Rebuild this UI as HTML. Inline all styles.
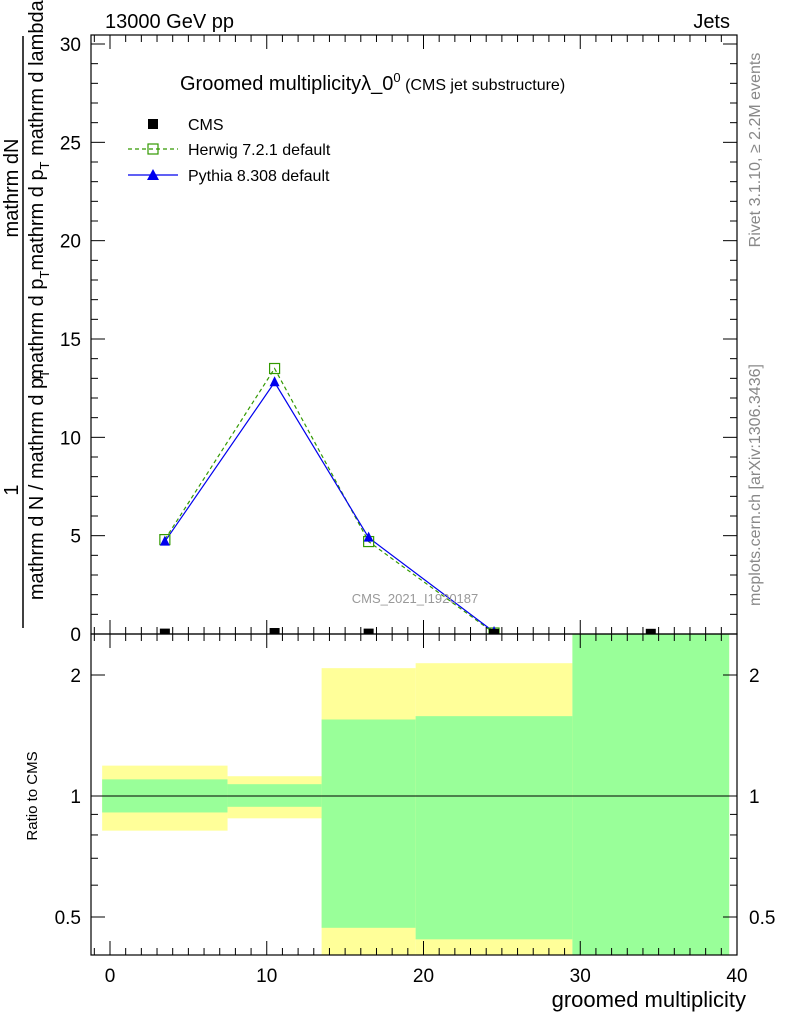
<!DOCTYPE html>
<html><head><meta charset="utf-8"><style>
body{margin:0;background:#fff;font-family:"Liberation Sans",sans-serif}
svg text{font-family:"Liberation Sans",sans-serif}
</style></head><body>
<svg id="c" width="786" height="1024" xmlns="http://www.w3.org/2000/svg">
<defs><clipPath id="mainclip"><rect x="91" y="35" width="646" height="599"/></clipPath></defs>
<g id="ratio-bands"></g>
<g id="marks" clip-path="url(#mainclip)"></g>
<g id="axes"></g>
<text x="105" y="28" font-size="20">13000 GeV pp</text>
<text x="730" y="28" font-size="20" text-anchor="end">Jets</text>
<text x="180" y="90" font-size="20">Groomed multiplicityλ_0<tspan font-size="13" dy="-8">0</tspan><tspan font-size="16" dy="8"> (CMS jet substructure)</tspan></text>
<g>
<rect x="148" y="119" width="10" height="10" fill="#000"/>
<text x="188" y="130" font-size="16">CMS</text>
<line x1="128" y1="149" x2="178" y2="149" stroke="#339900" stroke-dasharray="4,3" stroke-width="1.2"/>
<rect x="148" y="144" width="10" height="10" fill="none" stroke="#339900" stroke-width="1.2"/>
<text x="188" y="155" font-size="16">Herwig 7.2.1 default</text>
<line x1="128" y1="175" x2="178" y2="175" stroke="#0000ee" stroke-width="1.2"/>
<polygon points="153,169 159,180 147,180" fill="#0000ee"/>
<text x="188" y="181" font-size="16">Pythia 8.308 default</text>
</g>
<text x="415" y="603" font-size="13" fill="#999" text-anchor="middle">CMS_2021_I1920187</text>
<text transform="translate(760,150) rotate(-90)" font-size="16" fill="#888" text-anchor="middle">Rivet 3.1.10, ≥ 2.2M events</text>
<text transform="translate(760,485) rotate(-90)" font-size="16" fill="#888" text-anchor="middle">mcplots.cern.ch [arXiv:1306.3436]</text>
<g>
<text transform="translate(18,490) rotate(-90)" font-size="20" text-anchor="middle">1</text>
<text transform="translate(18,188) rotate(-90)" font-size="20" text-anchor="middle">mathrm dN</text>
<line x1="23" y1="628" x2="23" y2="36" stroke="#000" stroke-width="1.5"/>
<text transform="translate(43,485) rotate(-90)" font-size="20" text-anchor="middle">mathrm d N / mathrm d p<tspan font-size="13" dy="6">T</tspan></text>
<text transform="translate(43,190) rotate(-90)" font-size="20" text-anchor="middle">mathrm d p<tspan font-size="13" dy="6">T</tspan><tspan dy="-6">mathrm d p</tspan><tspan font-size="13" dy="6">T</tspan><tspan dy="-6"> mathrm d lambda</tspan></text>
</g>
<text transform="translate(37,796) rotate(-90)" font-size="15" text-anchor="middle">Ratio to CMS</text>
<text x="746" y="1007" font-size="22" text-anchor="end">groomed multiplicity</text>
</svg>
<script>
const binEdges=[-0.5,7.5,13.5,19.5,29.5,39.5];
const xCenters=[3.5,10.5,16.5,24.5,34.5];
const cmsVals=[0.02,0.05,0.02,0.005,0.01];
const herwigVals=[4.8,13.5,4.7,0.05];
const pythiaVals=[4.7,12.8,4.9,0.1];
const yellowHi=[1.19,1.12,2.08,2.14,3];
const yellowLo=[0.82,0.88,0.3,0.3,0.3];
const greenHi=[1.10,1.07,1.55,1.58,3];
const greenLo=[0.91,0.94,0.47,0.44,0.3];
const xTicks=[0,10,20,30,40];
const yTicks=[0,5,10,15,20,25,30];
const rTicks=[0.5,1,2];
const NS="http://www.w3.org/2000/svg";
const L=91,R=737,T=35,B=634,RB=955;
const X=v=>110+(v)*(737-110)/40;
const Y=v=>634-v*(634-44)/30;
const RY=v=>{const y=796-Math.log2(v)*121;return Math.max(B,Math.min(RB,y));};
function mk(t,a,p){const e=document.createElementNS(NS,t);for(const k in a)e.setAttribute(k,a[k]);(p||document.getElementById('c')).appendChild(e);return e;}
const rb=document.getElementById('ratio-bands'),mg=document.getElementById('marks'),ax=document.getElementById('axes');
for(let i=0;i<xCenters.length;i++){
const x0=Math.max(L,X(binEdges[i])),x1=Math.min(R,X(binEdges[i+1]));
let e=mk('rect',{x:x0,y:RY(yellowHi[i]),width:x1-x0,height:RY(yellowLo[i])-RY(yellowHi[i]),fill:'#ffff99'},rb);


e=mk('rect',{x:x0,y:RY(greenHi[i]),width:x1-x0,height:RY(greenLo[i])-RY(greenHi[i]),fill:'#99ff99'},rb);


}
mk('line',{x1:L,x2:R,y1:RY(1),y2:RY(1),stroke:'#000','stroke-width':1},rb);
let hp=herwigVals.map((v,i)=>X(xCenters[i])+','+Y(v)).join(' ');
let e=mk('polyline',{points:hp,fill:'none',stroke:'#339900','stroke-dasharray':'4,3','stroke-width':1.2},mg);


let pp=pythiaVals.map((v,i)=>X(xCenters[i])+','+Y(v)).join(' ');
e=mk('polyline',{points:pp,fill:'none',stroke:'#0000ee','stroke-width':1.2},mg);


herwigVals.forEach((v,i)=>{const p=mk('rect',{x:X(xCenters[i])-5,y:Y(v)-5,width:10,height:10,fill:'none',stroke:'#339900','stroke-width':1.2},mg);

});
pythiaVals.forEach((v,i)=>{const x=X(xCenters[i]),y=Y(v);const p=mk('polygon',{points:`${x},${y-6} ${x+5},${y+4} ${x-5},${y+4}`,fill:'#0000ee'},mg);

});
cmsVals.forEach((v,i)=>{const x=X(xCenters[i]),y=Y(v);const p=mk('rect',{x:x-5,y:y-5,width:10,height:10,fill:'#000'},mg);

});
mk('rect',{x:L,y:T,width:R-L,height:B-T,fill:'none',stroke:'#000','stroke-width':1.2},ax);
mk('rect',{x:L,y:B,width:R-L,height:RB-B,fill:'none',stroke:'#000','stroke-width':1.2},ax);
for(let v=0;v<=30;v++){const y=Y(v);if(y<T)continue;const len=v%5==0?14:7;
mk('line',{x1:L,x2:L+len,y1:y,y2:y,stroke:'#000'},ax);mk('line',{x1:R,x2:R-len,y1:y,y2:y,stroke:'#000'},ax);}
yTicks.forEach(v=>{const t=mk('text',{x:L-10,y:Y(v)+7,'font-size':19,'text-anchor':'end'},ax);t.textContent=v;

});
for(let v=-1;v<=39;v++){const x=X(v);if(x<L||x>R)continue;const len=v%10==0?14:7;
mk('line',{x1:x,x2:x,y1:B,y2:B-len,stroke:'#000'},ax);mk('line',{x1:x,x2:x,y1:B,y2:B+len,stroke:'#000'},ax);
mk('line',{x1:x,x2:x,y1:T,y2:T+len,stroke:'#000'},ax);mk('line',{x1:x,x2:x,y1:RB,y2:RB-len,stroke:'#000'},ax);}
xTicks.forEach(v=>{const t=mk('text',{x:X(v),y:982,'font-size':19,'text-anchor':'middle'},ax);t.textContent=v;

});
[0.4,0.5,0.6,0.7,0.8,0.9,1,2].forEach(v=>{const y=RY(v);const len=[0.5,1,2].includes(v)?14:7;
mk('line',{x1:L,x2:L+len,y1:y,y2:y,stroke:'#000'},ax);mk('line',{x1:R,x2:R-len,y1:y,y2:y,stroke:'#000'},ax);});
rTicks.forEach(v=>{let t=mk('text',{x:L-10,y:RY(v)+7,'font-size':19,'text-anchor':'end'},ax);t.textContent=v;


t=mk('text',{x:R+12,y:RY(v)+7,'font-size':19},ax);t.textContent=v;

});
</script>
</body></html>
